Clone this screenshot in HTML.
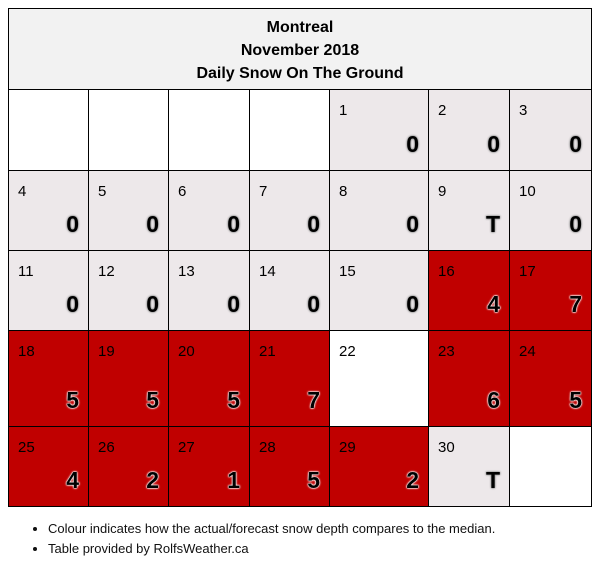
<!DOCTYPE html>
<html><head><meta charset="utf-8"><style>
body{margin:0;width:600px;height:569px;background:#fff;font-family:"Liberation Sans","DejaVu Sans",sans-serif;position:relative;overflow:hidden}
#hdr{position:absolute;left:8px;top:8px;width:584px;height:82px;background:#f2f2f2;border:1px solid #000;text-align:center;font-weight:bold;font-size:16px;line-height:23px;padding-top:7px;box-sizing:border-box}
.cell{position:absolute;border:1px solid #000;box-sizing:border-box}
.day{position:absolute;left:9px;top:12px;font-size:15px;color:#000}
.val{position:absolute;right:9px;font-weight:bold;font-size:23px;color:#000}
.light .val{text-shadow:0 0 2px #999,0 0 2px #999,0 0 1px #aaa,0 0 1px #aaa}
.red .val{text-shadow:0 0 2px #fff,0 0 2px #fff,0 0 1px #fff,0 0 1px #eee}
ul{position:absolute;left:20px;top:519px;margin:0;padding-left:28px;font-size:13px;line-height:20px;color:#111}
</style></head><body>
<div id="hdr">Montreal<br>November 2018<br>Daily Snow On The Ground</div>
<div id="grid"></div>
<ul>
<li>Colour indicates how the actual/forecast snow depth compares to the median.</li>
<li>Table provided by RolfsWeather.ca</li>
</ul>
<script>
const days=[1,2,3,4,5,6,7,8,9,10,11,12,13,14,15,16,17,18,19,20,21,22,23,24,25,26,27,28,29,30];
const values=["0","0","0","0","0","0","0","0","T","0","0","0","0","0","0","4","7","5","5","5","7","","6","5","4","2","1","5","2","T"];
const colours=["g","g","g","g","g","g","g","g","g","g","g","g","g","g","g","r","r","r","r","r","r","w","r","r","r","r","r","r","r","g"];
const startOffset=4;
const colX=[8,88,168,249,329,428,509,591];
const rowY=[89,170,250,330,426,506];
const fill={g:"#ede8ea",r:"#c00000",w:"#fff"};
const grid=document.getElementById('grid');
for(let i=0;i<35;i++){
  const c=i%7,r=Math.floor(i/7),d=i-startOffset;
  const el=document.createElement('div');
  el.className='cell';
  el.style.left=colX[c]+'px';el.style.top=rowY[r]+'px';
  el.style.width=(colX[c+1]-colX[c]+1)+'px';el.style.height=(rowY[r+1]-rowY[r]+1)+'px';
  if(d>=0&&d<days.length){
    const col=colours[d];
    el.style.background=fill[col];
    el.classList.add(col==='r'?'red':'light');
    
    
    const dl=document.createElement('div');dl.className='day';dl.textContent=days[d];
    
    
    el.appendChild(dl);
    if(values[d]!==''){
      const v=document.createElement('div');v.className='val';v.textContent=values[d];
      v.style.top=(rowY[r+1]-rowY[r]-40)+'px';
      
      
      el.appendChild(v);
    }
  }else{
    el.style.background='#fff';
    
    
  }
  grid.appendChild(el);
}
</script>
</body></html>
